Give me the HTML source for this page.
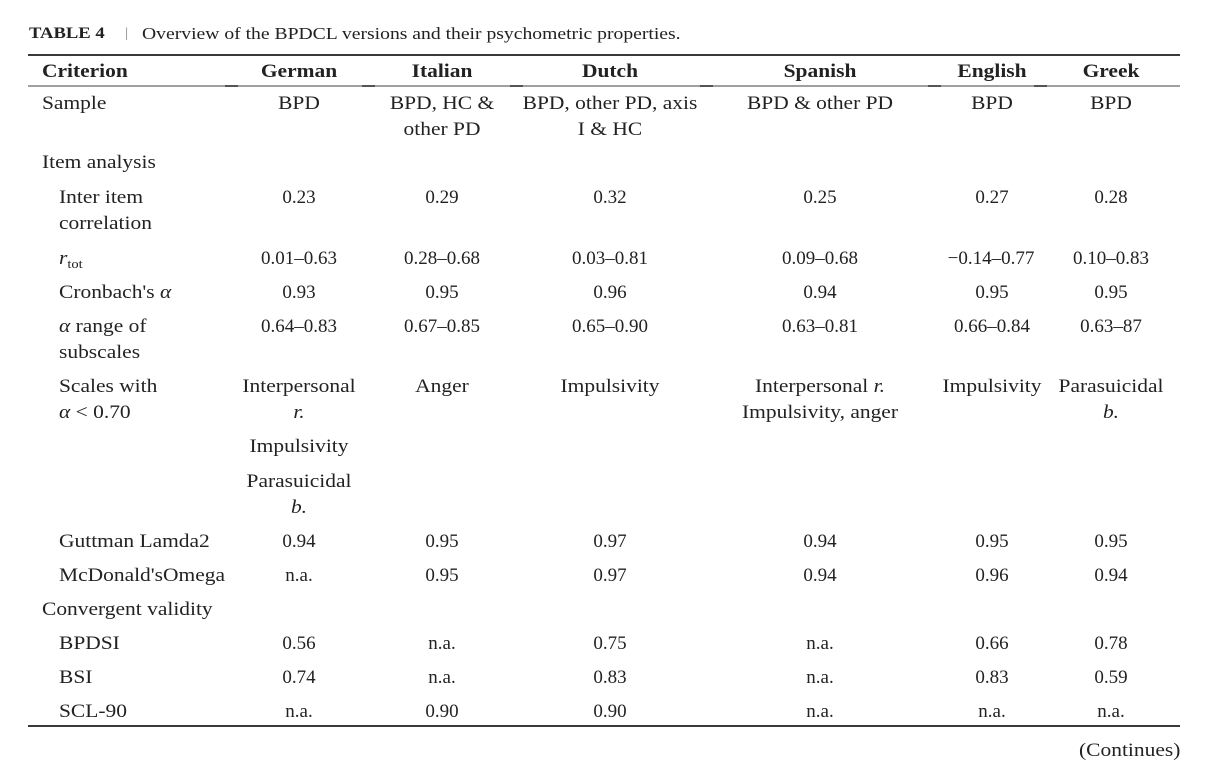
<!DOCTYPE html>
<html><head><meta charset="utf-8">
<style>
html,body{margin:0;padding:0;background:#fff;}
body{width:1206px;height:770px;position:relative;overflow:hidden;font-family:"Liberation Serif",serif;color:#222;}
.t,.c,.n,.r{position:absolute;white-space:nowrap;line-height:26px;font-size:18.5px;margin-top:1px;}
.t{transform-origin:0 50%;transform:scaleX(1.16);}
.c{transform:translateX(-50%) scaleX(1.16);text-align:center;}
.n{transform:translateX(-50%);text-align:center;font-size:19px;}
.r{transform-origin:100% 50%;transform:scaleX(1.16);}
.b{font-weight:bold;}
.rule{position:absolute;left:28px;width:1152px;height:2px;}
.seg{position:absolute;height:2px;width:13px;background:#555;top:85px;}
sub{font-size:12.5px;vertical-align:-4px;line-height:0;}
</style></head><body>

<!-- title -->
<div class="t b" style="left:29px;top:20px;font-size:15.5px;transform:scaleX(1.2);">TABLE 4</div>
<div class="t" style="left:125px;top:20px;font-size:14px;color:#888;">|</div>
<div class="t" style="left:142px;top:20px;font-size:16.5px;transform:scaleX(1.19);">Overview of the BPDCL versions and their psychometric properties.</div>

<!-- rules -->
<div class="rule" style="top:54px;background:#3a3a3a;"></div>
<div class="rule" style="top:85px;background:#a0a0a0;"></div>
<div class="seg" style="left:225px;"></div>
<div class="seg" style="left:362px;"></div>
<div class="seg" style="left:510px;"></div>
<div class="seg" style="left:700px;"></div>
<div class="seg" style="left:928px;"></div>
<div class="seg" style="left:1034px;"></div>
<div class="rule" style="top:725px;background:#3a3a3a;"></div>

<!-- header -->
<div class="t b" style="left:42px;top:58px;">Criterion</div>
<div class="c b" style="left:299px;top:58px;">German</div>
<div class="c b" style="left:442px;top:58px;">Italian</div>
<div class="c b" style="left:610px;top:58px;">Dutch</div>
<div class="c b" style="left:820px;top:58px;">Spanish</div>
<div class="c b" style="left:992px;top:58px;">English</div>
<div class="c b" style="left:1111px;top:58px;">Greek</div>

<!-- Sample -->
<div class="t" style="left:42px;top:90px;">Sample</div>
<div class="c" style="left:299px;top:90px;">BPD</div>
<div class="c" style="left:442px;top:90px;">BPD, HC &amp;<br>other PD</div>
<div class="c" style="left:610px;top:90px;">BPD, other PD, axis<br>I &amp; HC</div>
<div class="c" style="left:820px;top:90px;">BPD &amp; other PD</div>
<div class="c" style="left:992px;top:90px;">BPD</div>
<div class="c" style="left:1111px;top:90px;">BPD</div>

<!-- Item analysis -->
<div class="t" style="left:42px;top:149px;">Item analysis</div>

<div class="t" style="left:59px;top:184px;">Inter item<br>correlation</div>
<div class="n" style="left:299px;top:184px;">0.23</div>
<div class="n" style="left:442px;top:184px;">0.29</div>
<div class="n" style="left:610px;top:184px;">0.32</div>
<div class="n" style="left:820px;top:184px;">0.25</div>
<div class="n" style="left:992px;top:184px;">0.27</div>
<div class="n" style="left:1111px;top:184px;">0.28</div>

<div class="t" style="left:59px;top:245px;"><i>r</i><sub>tot</sub></div>
<div class="n" style="left:299px;top:245px;">0.01–0.63</div>
<div class="n" style="left:442px;top:245px;">0.28–0.68</div>
<div class="n" style="left:610px;top:245px;">0.03–0.81</div>
<div class="n" style="left:820px;top:245px;">0.09–0.68</div>
<div class="n" style="left:991px;top:245px;">−0.14–0.77</div>
<div class="n" style="left:1111px;top:245px;">0.10–0.83</div>

<div class="t" style="left:59px;top:279px;">Cronbach's <i>α</i></div>
<div class="n" style="left:299px;top:279px;">0.93</div>
<div class="n" style="left:442px;top:279px;">0.95</div>
<div class="n" style="left:610px;top:279px;">0.96</div>
<div class="n" style="left:820px;top:279px;">0.94</div>
<div class="n" style="left:992px;top:279px;">0.95</div>
<div class="n" style="left:1111px;top:279px;">0.95</div>

<div class="t" style="left:59px;top:313px;"><i>α</i> range of<br>subscales</div>
<div class="n" style="left:299px;top:313px;">0.64–0.83</div>
<div class="n" style="left:442px;top:313px;">0.67–0.85</div>
<div class="n" style="left:610px;top:313px;">0.65–0.90</div>
<div class="n" style="left:820px;top:313px;">0.63–0.81</div>
<div class="n" style="left:992px;top:313px;">0.66–0.84</div>
<div class="n" style="left:1111px;top:313px;">0.63–87</div>

<div class="t" style="left:59px;top:373px;">Scales with<br><i>α</i> &lt; 0.70</div>
<div class="c" style="left:299px;top:373px;">Interpersonal<br><i>r.</i></div>
<div class="c" style="left:299px;top:433px;">Impulsivity</div>
<div class="c" style="left:299px;top:468px;">Parasuicidal<br><i>b.</i></div>
<div class="c" style="left:442px;top:373px;">Anger</div>
<div class="c" style="left:610px;top:373px;">Impulsivity</div>
<div class="c" style="left:820px;top:373px;">Interpersonal <i>r.</i><br>Impulsivity, anger</div>
<div class="c" style="left:992px;top:373px;">Impulsivity</div>
<div class="c" style="left:1111px;top:373px;">Parasuicidal<br><i>b.</i></div>

<div class="t" style="left:59px;top:528px;">Guttman Lamda2</div>
<div class="n" style="left:299px;top:528px;">0.94</div>
<div class="n" style="left:442px;top:528px;">0.95</div>
<div class="n" style="left:610px;top:528px;">0.97</div>
<div class="n" style="left:820px;top:528px;">0.94</div>
<div class="n" style="left:992px;top:528px;">0.95</div>
<div class="n" style="left:1111px;top:528px;">0.95</div>

<div class="t" style="left:59px;top:562px;">McDonald'sOmega</div>
<div class="n" style="left:299px;top:562px;">n.a.</div>
<div class="n" style="left:442px;top:562px;">0.95</div>
<div class="n" style="left:610px;top:562px;">0.97</div>
<div class="n" style="left:820px;top:562px;">0.94</div>
<div class="n" style="left:992px;top:562px;">0.96</div>
<div class="n" style="left:1111px;top:562px;">0.94</div>

<div class="t" style="left:42px;top:596px;">Convergent validity</div>

<div class="t" style="left:59px;top:630px;">BPDSI</div>
<div class="n" style="left:299px;top:630px;">0.56</div>
<div class="n" style="left:442px;top:630px;">n.a.</div>
<div class="n" style="left:610px;top:630px;">0.75</div>
<div class="n" style="left:820px;top:630px;">n.a.</div>
<div class="n" style="left:992px;top:630px;">0.66</div>
<div class="n" style="left:1111px;top:630px;">0.78</div>

<div class="t" style="left:59px;top:664px;">BSI</div>
<div class="n" style="left:299px;top:664px;">0.74</div>
<div class="n" style="left:442px;top:664px;">n.a.</div>
<div class="n" style="left:610px;top:664px;">0.83</div>
<div class="n" style="left:820px;top:664px;">n.a.</div>
<div class="n" style="left:992px;top:664px;">0.83</div>
<div class="n" style="left:1111px;top:664px;">0.59</div>

<div class="t" style="left:59px;top:698px;">SCL-90</div>
<div class="n" style="left:299px;top:698px;">n.a.</div>
<div class="n" style="left:442px;top:698px;">0.90</div>
<div class="n" style="left:610px;top:698px;">0.90</div>
<div class="n" style="left:820px;top:698px;">n.a.</div>
<div class="n" style="left:992px;top:698px;">n.a.</div>
<div class="n" style="left:1111px;top:698px;">n.a.</div>

<div class="r" style="right:26px;top:737px;">(Continues)</div>

</body></html>
